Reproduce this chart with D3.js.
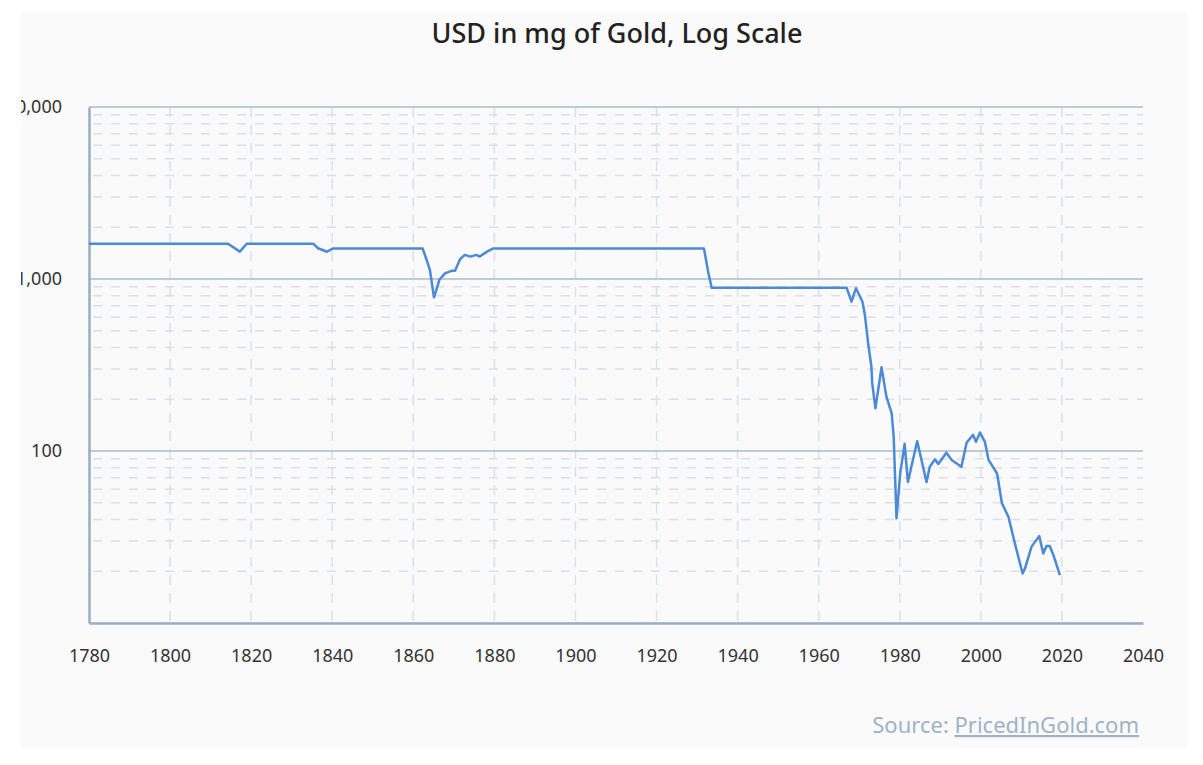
<!DOCTYPE html>
<meta charset="utf-8">
<script src="https://d3js.org/d3.v7.min.js"></script>
<style>
  body { margin: 0; background: #fff; }
  text { font-family: "Noto Sans", sans-serif; }
</style>
<div id="chart"></div>
<script>
  // values: mg of gold one USD buys
  const years = [1780, 1814.3, 1817.2, 1818.9, 1835.3, 1836.5, 1838.7, 1840.2,
    1862.3, 1863.3, 1864.1, 1865.1, 1865.7, 1866.4, 1867.8, 1869.4, 1870.3, 1871.5,
    1872.7, 1874.1, 1875.6, 1876.4, 1878.1, 1879.7, 1931.7, 1932.8, 1933.6,
    1966.9, 1968.1, 1969.2, 1970.8, 1971.4, 1972.2, 1973, 1973.2, 1974, 1975.5,
    1976.7, 1978, 1978.5, 1979.2, 1980.1, 1981.2, 1982, 1984.3, 1986.6, 1987.4,
    1988.7, 1989.5, 1991.5, 1992.8, 1995.2, 1996.5, 1998.1, 1998.8, 1999.8, 2001,
    2001.9, 2004, 2005.2, 2006.8, 2008.4, 2010.3, 2010.9, 2012.5, 2014.4, 2015.4,
    2016.2, 2017, 2017.9, 2019.5];
  const mg = [1604, 1604, 1442, 1604, 1604, 1510, 1440, 1505,
    1505, 1289, 1127, 783, 864, 986, 1079, 1116, 1116, 1300,
    1381, 1350, 1381, 1350, 1438, 1505, 1505, 1079, 889,
    889, 738, 884, 738, 617, 423, 309, 248, 177, 307,
    207, 166, 121, 40.6, 74, 110, 66, 114, 66, 81,
    89.5, 84, 97.8, 88.7, 81, 112, 124, 113, 128, 113,
    88.7, 74, 49.7, 41.5, 29, 19.4, 20.8, 27.8, 32, 25.4,
    28, 28, 24.8, 19];
  const xTicks = [1780, 1800, 1820, 1840, 1860, 1880, 1900, 1920, 1940, 1960, 1980, 2000, 2020, 2040];
  const yLabels = [100, 1000, 10000];

  const W = 1203, H = 765;
  const margin = {top: 107, right: 60, bottom: 142, left: 89};

  const svg = d3.select("#chart").append("svg")
    .attr("width", W).attr("height", H);

  // light panel behind the chart, everything clipped to it
  svg.append("clipPath").attr("id", "panel")
    .append("rect").attr("x", 21).attr("y", 12).attr("width", 1166).attr("height", 736);
  const root = svg.append("g").attr("clip-path", "url(#panel)");
  root.append("rect").attr("x", 21).attr("y", 12).attr("width", 1166).attr("height", 736)
    .attr("fill", "#fafafa");

  const x = d3.scaleLinear().domain([1780, 2040]).range([margin.left, W - margin.right]);
  const y = d3.scaleLog().domain([10, 10000]).range([H - margin.bottom, margin.top]);

  const data = years.map((yr, i) => ({year: yr, value: mg[i]}));

  // minor horizontal grid (dashed)
  const minor = y.ticks().filter(v => ![10, 100, 1000, 10000].includes(v));
  root.append("g").selectAll("line").data(minor).join("line")
    .attr("x1", x(1780) + 4).attr("x2", x(2040))
    .attr("y1", d => y(d)).attr("y2", d => y(d))
    .attr("stroke", "#d9e0e8").attr("stroke-width", 1.5)
    .attr("stroke-dasharray", "9,9");

  // vertical grid (dashed)
  root.append("g").selectAll("line").data(xTicks.slice(1, -1)).join("line")
    .attr("x1", d => x(d)).attr("x2", d => x(d))
    .attr("y1", y(10000)).attr("y2", y(10))
    .attr("stroke", "#d9e0e8").attr("stroke-width", 1.5)
    .attr("stroke-dasharray", "10,8");

  // major horizontal grid (solid)
  root.append("g").selectAll("line").data(yLabels).join("line")
    .attr("x1", x(1780)).attr("x2", x(2040))
    .attr("y1", d => y(d)).attr("y2", d => y(d))
    .attr("stroke", "#bfcbd9").attr("stroke-width", 2);

  // axes
  const xAxis = root.append("g")
    .attr("transform", `translate(0,${y(10)})`)
    .call(d3.axisBottom(x).tickValues(xTicks).tickFormat(d3.format("d")).tickSize(0).tickPadding(26));
  xAxis.select(".domain").attr("stroke", "#97abc3").attr("stroke-width", 2.5);
  xAxis.selectAll("text").attr("font-size", 18).attr("fill", "#333");

  const yAxis = root.append("g")
    .attr("transform", `translate(${x(1780)},0)`)
    .call(d3.axisLeft(y).tickValues(yLabels).tickFormat(d3.format(",")).tickSize(0).tickPadding(27));
  yAxis.select(".domain").attr("stroke", "#97abc3").attr("stroke-width", 2.5);
  yAxis.selectAll("text").attr("font-size", 18).attr("fill", "#333");

  // the series
  const line = d3.line().x(d => x(d.year)).y(d => y(d.value));
  root.append("path").datum(data)
    .attr("d", line)
    .attr("fill", "none")
    .attr("stroke", "#4a8ad6")
    .attr("stroke-width", 2.5)
    .attr("stroke-linejoin", "round");

  // title
  root.append("text")
    .attr("x", 617).attr("y", 43)
    .attr("text-anchor", "middle")
    .attr("font-size", 27).attr("font-weight", 500)
    .attr("fill", "#222")
    .text("USD in mg of Gold, Log Scale");

  // source note
  const src = root.append("text")
    .attr("x", 1139).attr("y", 733)
    .attr("text-anchor", "end")
    .attr("font-size", 22)
    .attr("fill", "#9fb2c8");
  src.append("tspan").text("Source: ");
  src.append("tspan").attr("text-decoration", "underline").text("PricedInGold.com");
</script>
